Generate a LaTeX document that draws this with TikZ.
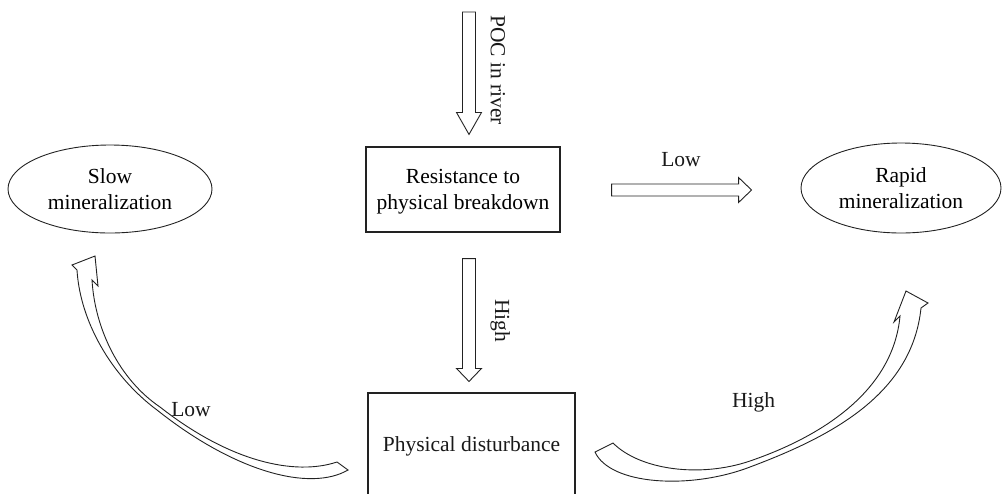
\documentclass[tikz,border=0pt]{standalone}
\usepackage{fontspec}
\setmainfont{Liberation Serif}
\usetikzlibrary{shapes.geometric,calc}
\definecolor{ln}{HTML}{222222}
\newcommand{\myvarrow}[3]{\draw[blk] ($(#1)+(-6.5,0)$) -- ($(#1)+(6.5,0)$) -- ($(#2)+(6.5,-#3)$) -- ($(#2)+(12.5,-#3)$) -- (#2) -- ($(#2)+(-12.5,-#3)$) -- ($(#2)+(-6.5,-#3)$) -- cycle;}
\newcommand{\myharrow}[3]{\draw[blk] ($(#1)+(0,-6)$) -- ($(#2)+(-#3,-6)$) -- ($(#2)+(-#3,-12.5)$) -- (#2) -- ($(#2)+(-#3,12.5)$) -- ($(#2)+(-#3,6)$) -- ($(#1)+(0,6)$) -- cycle;}
\begin{document}
\begin{tikzpicture}[x=1pt,y=-1pt,font=\fontsize{21.5}{25.5}\selectfont,
  blk/.style={draw=ln,line width=0.9pt,fill=white,line join=miter},
  boxst/.style={draw=ln,line width=1.1pt,rectangle,inner sep=0pt,align=center},
  ell/.style={ellipse,draw=ln,line width=0.9pt,inner sep=0pt,align=center},
  lbl/.style={inner sep=0pt,text=black!90}]
\useasboundingbox (0,0) rectangle (1003,493);

% nodes
\node[boxst,minimum width=194,minimum height=85] (box1) at (463,189.5)
  {Resistance to\\\raisebox{0pt}[\height][0pt]{physical breakdown}};
\node[boxst,minimum width=207,minimum height=120] (box2) at (471.5,453) {};
\node[lbl] (box2t) at (471.5,446) {Physical disturbance};
\node[ell,minimum width=204,minimum height=88] (slow) at (110,189) {Slow\\mineralization};
\node[ell,minimum width=200,minimum height=90] (rapid) at (901,188) {Rapid\\mineralization};

% straight block arrows
\coordinate (a1s) at (469,12);
\coordinate (a1e) at ($(box1.north -| a1s)+(0,-12)$);
\myvarrow{a1s}{a1e}{22}
\node[lbl,rotate=-90] (poc) at (498,70) {POC in river};

\coordinate (a2s) at ($(box1.south -| a1s)+(0,26)$);
\coordinate (a2e) at ($(box2.north -| a1s)+(0,-11)$);
\myvarrow{a2s}{a2e}{13}
\node[lbl,rotate=-90] (high1) at (500.3,320.5) {High};

\coordinate (a3s) at ($(box1.east)+(51,0.5)$);
\coordinate (a3e) at ($(rapid.west)+(-49,2)$);
\myharrow{a3s}{a3e}{13}
\node[lbl] (low1) at (681,160) {Low};

% curved block arrow to slow mineralization
\draw[blk] (348,470) .. controls (310,492) and (235,472) .. (157,410)
  .. controls (110,375) and (80,320) .. (77,270) -- (72,265) -- (95,256) -- (98,286) -- (92,280)
  .. controls (95,330) and (120,380) .. (160,407)
  .. controls (230,462) and (295,476) .. (337,462) -- cycle;
\node[lbl] (low2) at (191,410) {Low};

% curved block arrow to rapid mineralization
\draw[blk] (613,443) .. controls (640,470) and (700,478) .. (750,461)
  .. controls (820,437) and (893,392) .. (900,316) -- (894,322) -- (906,291) -- (928,303) -- (921,308)
  .. controls (912,395) and (830,437) .. (750,467)
  .. controls (690,490) and (610,485) .. (595,452) -- cycle;
\node[lbl] (high2) at (753.5,402.7) {High};
\end{tikzpicture}
\end{document}
